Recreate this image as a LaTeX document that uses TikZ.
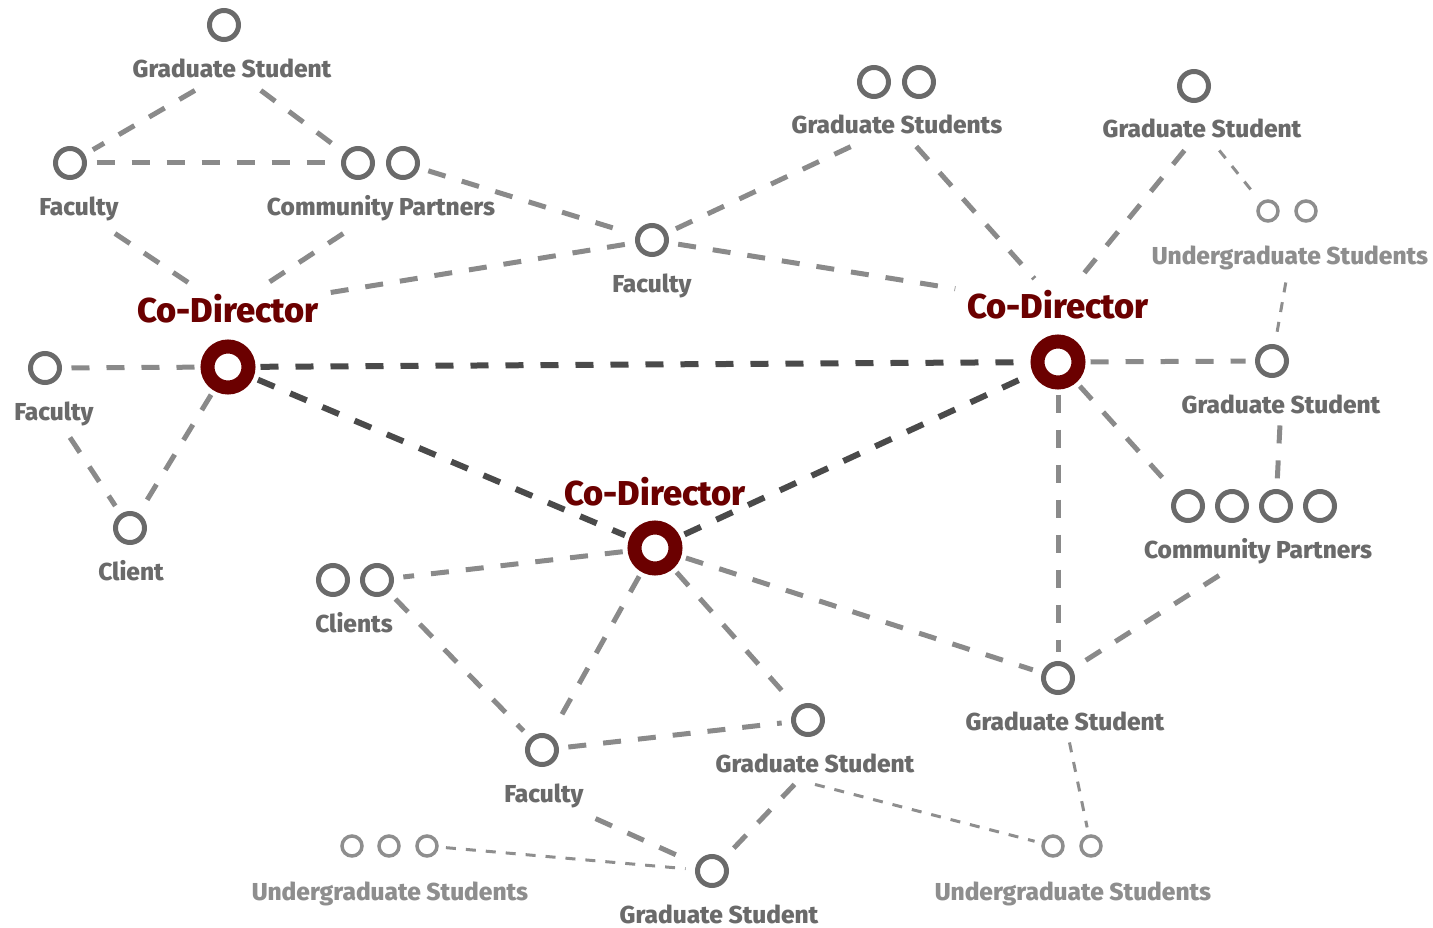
\documentclass[tikz,border=0pt]{standalone}
\usepackage{fontspec}
\setmainfont{Fira Sans}[BoldFont={Fira Sans ExtraBold}]
\usetikzlibrary{positioning}

\definecolor{dirred}{HTML}{6B0000}
\definecolor{memgray}{HTML}{6A6A6A}
\definecolor{uggray}{HTML}{8E8E8E}
\definecolor{linkgray}{HTML}{8A8A8A}
\definecolor{coregray}{HTML}{4A4A4A}

\tikzset{
  member/.style={circle, draw=memgray, line width=5pt, minimum size=29pt, inner sep=0pt, outer sep=12pt},
  junior/.style={circle, draw=uggray, line width=3.5pt, minimum size=20pt, inner sep=0pt, outer sep=9pt},
  director/.style={circle, draw=dirred, line width=14pt, minimum size=41pt, inner sep=0pt, outer sep=12pt},
  role/.style={anchor=base, text=memgray, font=\bfseries\fontsize{24.5}{24.5}\selectfont, inner sep=4pt, outer sep=8pt},
  ugrole/.style={role, text=uggray},
  dirrole/.style={role, text=dirred, font=\bfseries\fontsize{34.5}{34.5}\selectfont},
  link/.style={draw=linkgray, line width=5pt, dash pattern=on 18pt off 17pt},
  corelink/.style={draw=coregray, line width=6pt, dash pattern=on 18pt off 17pt},
  thinlink/.style={draw=uggray, line width=3pt, dash pattern=on 10pt off 10pt}
}

\begin{document}
\begin{tikzpicture}[x=1pt, y=-1pt]
    \useasboundingbox (0,0) rectangle (1433,928);

    % Co-Directors
    \node[director] (cod1) at (228,367) {};
    \node[director] (cod2) at (1058,362) {};
    \node[director] (cod3) at (655,548) {};
    \node[dirrole] (cod1-l) at (228,323) {Co-Director};
    \node[dirrole] (cod2-l) at (1058,319) {Co-Director};
    \node[dirrole] (cod3-l) at (655,505) {Co-Director};

    % Members, top left
    \node[member] (gs1) at (224,25) {};
    \node[member] (fac1) at (70,163) {};
    \node[member] (cp1a) at (358,163) {};
    \node[member] (cp1b) at (403,163) {};
    \node[member] (fac2) at (45,368) {};
    \node[member] (client) at (130,528) {};
    \node[role] (gs1-l) at (232,78) {Graduate Student};
    \node[role] (fac1-l) at (79,216) {Faculty};
    \node[role] (cp1-l) at (381,216) {Community Partners};
    \node[role] (fac2-l) at (54,420) {Faculty};
    \node[role] (client-l) at (131,580) {Client};

    % Members, top right
    \node[member] (fac3) at (652,240) {};
    \node[member] (gs2a) at (874,82) {};
    \node[member] (gs2b) at (919,82) {};
    \node[member] (gs3) at (1194,86) {};
    \node[junior] (ug1a) at (1268,211) {};
    \node[junior] (ug1b) at (1306,211) {};
    \node[member] (gs4) at (1272,361) {};
    \node[member] (cp2a) at (1188,506) {};
    \node[member] (cp2b) at (1232,506) {};
    \node[member] (cp2c) at (1276,506) {};
    \node[member] (cp2d) at (1320,506) {};
    \node[role] (fac3-l) at (652,292) {Faculty};
    \node[role] (gs2-l) at (897,134) {Graduate Students};
    \node[role] (gs3-l) at (1202,138) {Graduate Student};
    \node[ugrole] (ug1-l) at (1290,265) {Undergraduate Students};
    \node[role] (gs4-l) at (1281,413) {Graduate Student};
    \node[role] (cp2-l) at (1258,558) {Community Partners};

    % Members, bottom
    \node[member] (clientsa) at (333,580) {};
    \node[member] (clientsb) at (377,580) {};
    \node[member] (fac4) at (542,750) {};
    \node[member] (gs5) at (808,720) {};
    \node[member] (gs6) at (1058,678) {};
    \node[member] (gs7) at (712,871) {};
    \node[junior] (ug2a) at (352,846) {};
    \node[junior] (ug2b) at (389,846) {};
    \node[junior] (ug2c) at (427,846) {};
    \node[junior] (ug3a) at (1053,846) {};
    \node[junior] (ug3b) at (1091,846) {};
    \node[role] (clients-l) at (354,632) {Clients};
    \node[role] (fac4-l) at (544,802) {Faculty};
    \node[role] (gs5-l) at (815,772) {Graduate Student};
    \node[role] (gs6-l) at (1065,730) {Graduate Student};
    \node[role] (gs7-l) at (719,923) {Graduate Student};
    \node[ugrole] (ug2-l) at (390,900) {Undergraduate Students};
    \node[ugrole] (ug3-l) at (1073,900) {Undergraduate Students};

    % Links between Co-Directors
    \draw[corelink] (cod1) -- (cod2);
    \draw[corelink] (cod1) -- (cod3);
    \draw[corelink] (cod3) -- (cod2);

    % Links, top left
    \draw[link] (gs1-l) -- (fac1);
    \draw[link] (gs1-l) -- (cp1a);
    \draw[link] (fac1) -- (cp1a);
    \draw[link] (fac1-l) -- (cod1-l);
    \draw[link] (cp1-l) -- (cod1-l);
    \draw[link] (cp1b) -- (fac3);
    \draw[link] (fac2) -- (cod1);
    \draw[link] (fac2-l) -- (client);
    \draw[link] (cod1) -- (client);

    % Links, top right
    \draw[link] (cod1-l) -- (fac3);
    \draw[link] (fac3) -- (gs2-l);
    \draw[link] (fac3) -- (cod2-l);
    \draw[link] (gs2-l) -- (cod2-l);
    \draw[link] (gs3-l) -- (cod2-l);
    \draw[thinlink] (gs3-l) -- (ug1a);
    \draw[thinlink] (ug1-l) -- (gs4);
    \draw[link] (cod2) -- (gs4);
    \draw[link] (cod2) -- (cp2a);
    \draw[link] (gs4-l) -- (cp2c);
    \draw[link] (cod2) -- (gs6);
    \draw[link] (cp2-l) -- (gs6);

    % Links, bottom
    \draw[link] (cod3) -- (gs6);
    \draw[link] (cod3) -- (clientsb);
    \draw[link] (clientsb) -- (fac4);
    \draw[link] (cod3) -- (fac4);
    \draw[link] (cod3) -- (gs5);
    \draw[link] (fac4) -- (gs5);
    \draw[link] (fac4-l) -- (gs7);
    \draw[link] (gs5-l) -- (gs7);
    \draw[thinlink] (ug2c) -- (gs7);
    \draw[thinlink] (gs5-l.south) -- (ug3a);
    \draw[thinlink] (gs6-l) -- (ug3b);

\end{tikzpicture}
\end{document}
